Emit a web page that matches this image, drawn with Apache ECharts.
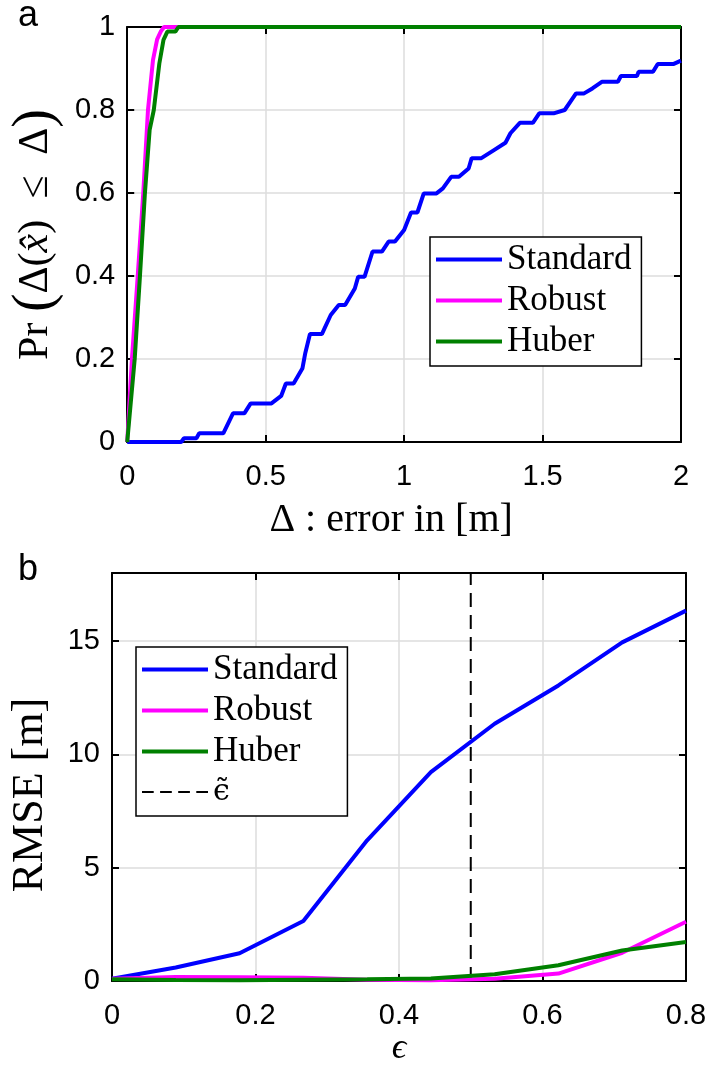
<!DOCTYPE html>
<html>
<head>
<meta charset="utf-8">
<script src="https://cdn.jsdelivr.net/npm/echarts@6/dist/echarts.min.js"></script>
<style>
  html, body { margin: 0; padding: 0; background: #fff; }
  #chart { width: 712px; height: 1068px; }
</style>
</head>
<body>
<div id="chart"></div>
<script>
// panel a: empirical CDF of the error
const stdErr = [0, 0.195, 0.205, 0.25, 0.26, 0.347, 0.382, 0.423, 0.446, 0.521, 0.556, 0.573, 0.601, 0.633,
    0.643, 0.66, 0.703, 0.735, 0.764, 0.787, 0.822, 0.834, 0.857, 0.886, 0.92, 0.944, 0.967, 1.0, 1.025,
    1.048, 1.071, 1.117, 1.14, 1.17, 1.198, 1.233, 1.244, 1.279, 1.326, 1.366, 1.384, 1.418, 1.465, 1.488,
    1.54, 1.58, 1.621, 1.65, 1.68, 1.714, 1.772, 1.783, 1.841, 1.847, 1.899, 1.916, 1.974, 2.0];
const stdCdf = [0, 0, 0.009, 0.009, 0.021, 0.021, 0.069, 0.069, 0.093, 0.093, 0.111, 0.141, 0.141, 0.178,
    0.214, 0.26, 0.26, 0.306, 0.33, 0.33, 0.37, 0.398, 0.398, 0.459, 0.459, 0.483, 0.483, 0.511, 0.553,
    0.553, 0.599, 0.599, 0.611, 0.639, 0.639, 0.659, 0.684, 0.684, 0.704, 0.721, 0.744, 0.769, 0.769, 0.792,
    0.792, 0.8, 0.84, 0.84, 0.852, 0.868, 0.868, 0.882, 0.882, 0.892, 0.892, 0.911, 0.911, 0.919];
const robErr = [0, 0.017, 0.038, 0.058, 0.075, 0.093, 0.108, 0.122, 0.133, 2.0];
const robCdf = [0, 0.2, 0.4, 0.6, 0.8, 0.92, 0.97, 0.99, 1, 1];
const hubErr = [0, 0.027, 0.046, 0.064, 0.081, 0.096, 0.116, 0.131, 0.145, 0.174, 0.185, 2.0];
const hubCdf = [0, 0.2, 0.4, 0.6, 0.752, 0.8, 0.912, 0.969, 0.989, 0.989, 1, 1];

// panel b: RMSE against contamination
const eps = [0, 0.0889, 0.1778, 0.2667, 0.3556, 0.4444, 0.5333, 0.6222, 0.7111, 0.8];
const rmseStd = [0.1, 0.6, 1.23, 2.65, 6.21, 9.22, 11.35, 13.04, 14.94, 16.34];
const rmseRob = [0.1, 0.18, 0.17, 0.15, 0.06, 0.04, 0.1, 0.33, 1.25, 2.62];
const rmseHub = [0.08, 0.05, 0.04, 0.06, 0.08, 0.12, 0.3, 0.7, 1.35, 1.72];
const epsTilde = 0.5;

// [min, max, interval]
const xTicksA = [0, 2, 0.5];
const yTicksA = [0, 1, 0.2];
const xTicksB = [0, 0.8, 0.2];
const yTicksB = [0, 18, 5];

const BLUE = '#0000ff', MAGENTA = '#ff00ff', GREEN = '#008000';
const SANS = 'Liberation Sans, Arial, sans-serif';
const SERIF = 'Liberation Serif, Times New Roman, serif';
const DASH_ICON = 'path://M0,0h11v2h-11z M17,0h11v2h-11z M34,0h11v2h-11z M51,0h11v2h-11z';

const zip = (xs, ys) => xs.map((x, i) => [x, ys[i]]);

function mainX(grid, ticks, name, nameGap, nameStyle) {
    return {
        type: 'value', gridIndex: grid, position: 'bottom',
        min: ticks[0], max: ticks[1], interval: ticks[2],
        name: name, nameLocation: 'middle', nameGap: nameGap, nameTextStyle: nameStyle,
        axisLine: {show: true, lineStyle: {color: '#000', width: 2}},
        axisTick: {show: true, inside: true, length: 7, lineStyle: {color: '#000', width: 2}},
        axisLabel: {color: '#000', fontFamily: SANS, fontSize: 29, margin: 20},
        splitLine: {show: true, lineStyle: {color: '#dcdcdc', width: 1.5}}
    };
}
function mainY(grid, ticks, showMax, name, nameGap, nameStyle) {
    return {
        type: 'value', gridIndex: grid, position: 'left',
        min: ticks[0], max: ticks[1], interval: ticks[2],
        name: name, nameLocation: 'middle', nameGap: nameGap, nameTextStyle: nameStyle,
        axisLine: {show: true, lineStyle: {color: '#000', width: 2}},
        axisTick: {show: true, inside: true, length: 7, lineStyle: {color: '#000', width: 2}},
        axisLabel: {color: '#000', fontFamily: SANS, fontSize: 29, margin: 12, showMaxLabel: showMax},
        splitLine: {show: true, lineStyle: {color: '#dcdcdc', width: 1.5}}
    };
}
// mirrored box sides (MATLAB "box on")
function mirror(grid, ticks, position) {
    return {
        type: 'value', gridIndex: grid, position: position,
        min: ticks[0], max: ticks[1], interval: ticks[2],
        axisLine: {show: true, onZero: false, lineStyle: {color: '#000', width: 2}},
        axisTick: {show: true, inside: true, length: 7, lineStyle: {color: '#000', width: 2}},
        axisLabel: {show: false},
        splitLine: {show: false}
    };
}

function line(name, color, data, xi, yi, extra) {
    return Object.assign({
        name: name, type: 'line', xAxisIndex: xi, yAxisIndex: yi,
        data: data, symbol: 'none', clip: false, animation: false,
        lineStyle: {color: color, width: 4}, itemStyle: {color: color}
    }, extra || {});
}

function legendBox(left, top, items) {
    return {
        orient: 'vertical', left: left, top: top,
        data: items.map(n => n === 'ϵ̃'
            ? {name: n, icon: DASH_ICON, textStyle: {fontFamily: 'DejaVu Serif', fontSize: 30}}
            : {name: n, icon: 'rect'}),
        selectedMode: false, backgroundColor: '#fff',
        borderColor: '#000', borderWidth: 1.5, borderRadius: 0,
        padding: [5, 10, 7, 6], itemGap: 6, itemWidth: 66, itemHeight: 4,
        textStyle: {fontFamily: SERIF, fontSize: 35, lineHeight: 34, color: '#000'}
    };
}

const chart = echarts.init(document.getElementById('chart'), null, {renderer: 'canvas'});
chart.setOption({
    animation: false,
    backgroundColor: '#fff',
    title: [
        {text: 'a', left: 13, top: -7, textStyle: {fontFamily: SANS, fontSize: 36, fontWeight: 'normal', color: '#000'}},
        {text: 'b', left: 13, top: 547, textStyle: {fontFamily: SANS, fontSize: 36, fontWeight: 'normal', color: '#000'}}
    ],
    grid: [
        {left: 105, top: 27, width: 576, height: 415},
        {left: 111, top: 573, width: 575, height: 410}
    ],
    xAxis: [
        mainX(0, xTicksA, 'Δ : error in [m]', 58, {fontFamily: SERIF, fontSize: 40, color: '#000', padding: [0, 26, 0, 0]}),
        mirror(0, xTicksA, 'top'),
        mainX(1, xTicksB, 'ϵ', 48, {fontFamily: SERIF, fontSize: 36, fontStyle: 'italic', color: '#000'}),
        mirror(1, xTicksB, 'top')
    ],
    yAxis: [
        mainY(0, yTicksA, true, 'Pr {big|(}Δ({it|x̂})  ≤  Δ{big|)}', 62, {
            fontFamily: SERIF, fontSize: 42, color: '#000',
            rich: {
                big: {fontFamily: SERIF, fontSize: 56, color: '#000'},
                it: {fontFamily: SERIF, fontSize: 42, fontStyle: 'italic', color: '#000'}
            }
        }),
        mirror(0, yTicksA, 'right'),
        mainY(1, yTicksB, false, 'RMSE [m]', 60, {fontFamily: SERIF, fontSize: 44, color: '#000', padding: [0, 36, 0, 0]}),
        mirror(1, yTicksB, 'right')
    ],
    legend: [
        legendBox(430, 237, ['Standard', 'Robust', 'Huber']),
        legendBox(136, 647, ['Standard', 'Robust', 'Huber', 'ϵ̃'])
    ],
    series: [
        line('Standard', BLUE, zip(stdErr, stdCdf), 0, 0),
        line('Robust', MAGENTA, zip(robErr, robCdf), 0, 0),
        line('Huber', GREEN, zip(hubErr, hubCdf), 0, 0),
        line('Standard', BLUE, zip(eps, rmseStd), 2, 2),
        line('Robust', MAGENTA, zip(eps, rmseRob), 2, 2),
        line('Huber', GREEN, zip(eps, rmseHub), 2, 2),
        line('ϵ̃', '#000', [[epsTilde, yTicksB[0]], [epsTilde, yTicksB[1]]], 2, 2, {
            lineStyle: {color: '#000', width: 2, type: [14, 8]}, z: 1
        })
    ]
});
</script>
</body>
</html>
